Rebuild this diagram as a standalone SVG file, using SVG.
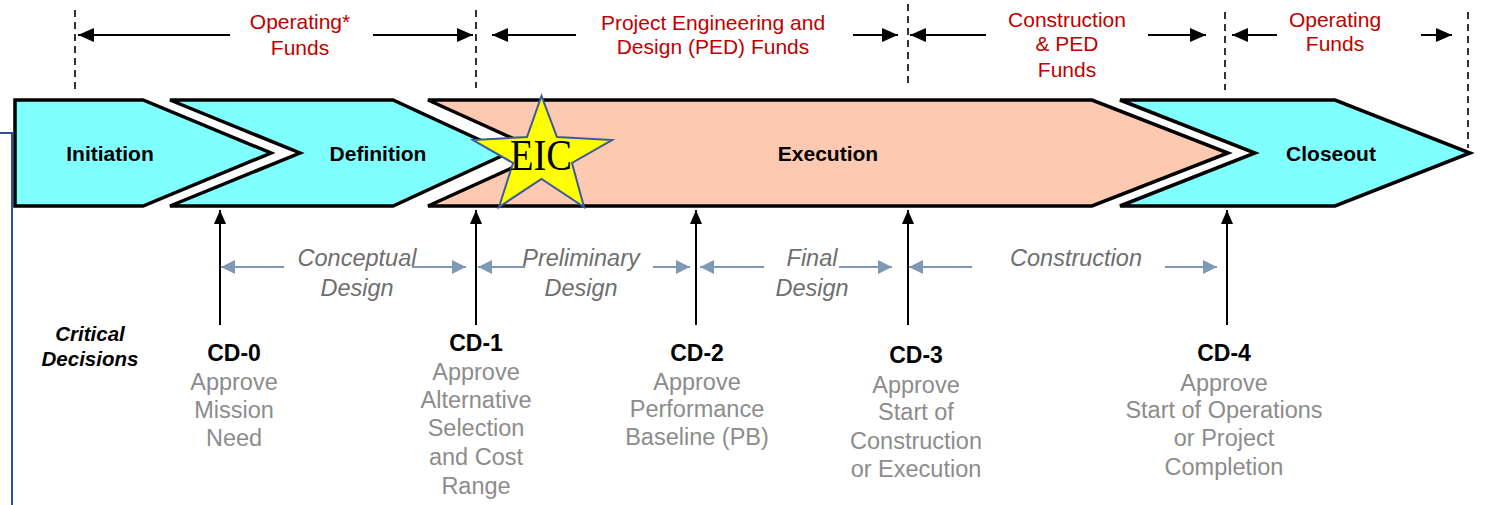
<svg xmlns="http://www.w3.org/2000/svg" width="1486" height="505" viewBox="0 0 1486 505">
<style>
.phase{stroke:#000;stroke-width:3.5;stroke-linejoin:miter}
.cyan{fill:#80ffff}
.peach{fill:#fdc9b0}
.plabel{font-family:"Liberation Sans",Arial,sans-serif;font-weight:bold;font-size:21px;fill:#000;text-anchor:middle}
.fund{font-family:"Liberation Sans",Arial,sans-serif;font-size:21px;fill:#c00000;text-anchor:middle}
.design{font-family:"Liberation Sans",Arial,sans-serif;font-style:italic;font-size:23.5px;fill:#6e6e6e;text-anchor:middle}
.cd{font-family:"Liberation Sans",Arial,sans-serif;font-weight:bold;font-size:23px;fill:#000;text-anchor:middle}
.desc{font-family:"Liberation Sans",Arial,sans-serif;font-size:23.5px;fill:#8c8c8c;text-anchor:middle}
.crit{font-family:"Liberation Sans",Arial,sans-serif;font-weight:bold;font-style:italic;font-size:20.5px;fill:#000;text-anchor:middle}
.dash{stroke:#000;stroke-width:1.6;stroke-dasharray:7 5;fill:none}
.farrow{stroke:#000;stroke-width:2;fill:none;marker-end:url(#bh)}
.garrow{stroke:#7f98b5;stroke-width:2;fill:none;marker-end:url(#gh)}
.varrow{stroke:#000;stroke-width:2;fill:none;marker-end:url(#vh)}
</style>
<defs>
<marker id="bh" markerUnits="userSpaceOnUse" markerWidth="18" markerHeight="14" refX="16" refY="7" orient="auto"><path d="M0,0 L16,7 L0,14 Z" fill="#000"/></marker>
<marker id="gh" markerUnits="userSpaceOnUse" markerWidth="16" markerHeight="14" refX="14" refY="7" orient="auto"><path d="M0,0 L14,7 L0,14 Z" fill="#7f98b5"/></marker>
<marker id="vh" markerUnits="userSpaceOnUse" markerWidth="16" markerHeight="12" refX="14" refY="6" orient="auto"><path d="M0,0 L14,6 L0,12 Z" fill="#000"/></marker>
</defs>

<path d="M0,133 H12 V505" stroke="#2f4f9f" stroke-width="2" fill="none"/>

<g id="initiation">
<polygon class="phase cyan" points="15,100 143,100 271,153 143,206 15,206"/>
<text class="plabel" x="110" y="161">Initiation</text>
</g>
<g id="definition">
<polygon class="phase cyan" points="170,100 393,100 508,153 393,206 170,206 300,153"/>
<text class="plabel" x="378" y="161">Definition</text>
</g>
<g id="execution">
<polygon class="phase peach" points="428,100 1092,100 1228,153 1092,206 428,206 545,153"/>
<text class="plabel" x="828" y="161">Execution</text>
</g>
<g id="closeout">
<polygon class="phase cyan" points="1120,100 1335,100 1470,153 1335,206 1120,206 1255,153"/>
<text class="plabel" x="1331" y="161">Closeout</text>
</g>
<g id="eic">
<polygon points="541.5,96 557,137 612,140 572,163 584,207 541.5,179 499,207 513,163 473,140 527,137" fill="#ffff00" stroke="#3a5a9b" stroke-width="2" stroke-linejoin="miter"/>
<text x="541" y="170" font-family="'Liberation Serif','Times New Roman',serif" font-size="44" fill="#000" text-anchor="middle" textLength="62" lengthAdjust="spacingAndGlyphs">EIC</text>
</g>

<g id="dashes">
<line class="dash" x1="75" y1="10" x2="75" y2="90"/>
<line class="dash" x1="476" y1="10" x2="476" y2="88"/>
<line class="dash" x1="908" y1="4" x2="908" y2="86"/>
<line class="dash" x1="1225" y1="12" x2="1225" y2="90"/>
<line class="dash" x1="1468" y1="12" x2="1468" y2="148"/>
</g>

<g id="connectors">
<line class="farrow" x1="230" y1="35" x2="78" y2="35"/>
<line class="farrow" x1="373" y1="35" x2="473" y2="35"/>
<line class="farrow" x1="576" y1="35" x2="492" y2="35"/>
<line class="farrow" x1="853" y1="35" x2="898" y2="35"/>
<line class="farrow" x1="986" y1="35" x2="910" y2="35"/>
<line class="farrow" x1="1148" y1="35" x2="1206" y2="35"/>
<line class="farrow" x1="1277" y1="35" x2="1232" y2="35"/>
<line class="farrow" x1="1421" y1="35" x2="1452" y2="35"/>

<line class="garrow" x1="284" y1="267" x2="221" y2="267"/>
<line class="garrow" x1="412" y1="267" x2="466" y2="267"/>
<line class="garrow" x1="525" y1="267" x2="478" y2="267"/>
<line class="garrow" x1="653" y1="267" x2="690" y2="267"/>
<line class="garrow" x1="764" y1="267" x2="700" y2="267"/>
<line class="garrow" x1="839" y1="267" x2="892" y2="267"/>
<line class="garrow" x1="972" y1="267" x2="909" y2="267"/>
<line class="garrow" x1="1165" y1="267" x2="1217" y2="267"/>

<line class="varrow" x1="220" y1="325" x2="220" y2="210"/>
<line class="varrow" x1="476" y1="325" x2="476" y2="210"/>
<line class="varrow" x1="696" y1="325" x2="696" y2="210"/>
<line class="varrow" x1="908" y1="325" x2="908" y2="210"/>
<line class="varrow" x1="1227" y1="325" x2="1227" y2="210"/>
</g>

<g id="funds">
<text class="fund" x="300" y="29">Operating*</text>
<text class="fund" x="300" y="55">Funds</text>
<text class="fund" x="713" y="30">Project Engineering and</text>
<text class="fund" x="713" y="54">Design (PED) Funds</text>
<text class="fund" x="1067" y="27">Construction</text>
<text class="fund" x="1067" y="51">&amp; PED</text>
<text class="fund" x="1067" y="77">Funds</text>
<text class="fund" x="1335" y="27">Operating</text>
<text class="fund" x="1335" y="51">Funds</text>
</g>

<g id="design-phases">
<text class="design" x="357" y="266">Conceptual</text>
<text class="design" x="357" y="296">Design</text>
<text class="design" x="581" y="266">Preliminary</text>
<text class="design" x="581" y="296">Design</text>
<text class="design" x="812" y="266">Final</text>
<text class="design" x="812" y="296">Design</text>
<text class="design" x="1076" y="266">Construction</text>
</g>

<g id="critical-decisions">
<text class="crit" x="90" y="341">Critical</text>
<text class="crit" x="90" y="366">Decisions</text>
</g>
<g id="cd0">
<text class="cd" x="234" y="361">CD-0</text>
<text class="desc" x="234" y="390">Approve</text>
<text class="desc" x="234" y="418">Mission</text>
<text class="desc" x="234" y="446">Need</text>
</g>
<g id="cd1">
<text class="cd" x="476" y="351">CD-1</text>
<text class="desc" x="476" y="380">Approve</text>
<text class="desc" x="476" y="408">Alternative</text>
<text class="desc" x="476" y="436">Selection</text>
<text class="desc" x="476" y="465">and Cost</text>
<text class="desc" x="476" y="494">Range</text>
</g>
<g id="cd2">
<text class="cd" x="697" y="361">CD-2</text>
<text class="desc" x="697" y="390">Approve</text>
<text class="desc" x="697" y="417">Performance</text>
<text class="desc" x="697" y="445">Baseline (PB)</text>
</g>
<g id="cd3">
<text class="cd" x="916" y="363">CD-3</text>
<text class="desc" x="916" y="393">Approve</text>
<text class="desc" x="916" y="420">Start of</text>
<text class="desc" x="916" y="449">Construction</text>
<text class="desc" x="916" y="477">or Execution</text>
</g>
<g id="cd4">
<text class="cd" x="1224" y="361">CD-4</text>
<text class="desc" x="1224" y="391">Approve</text>
<text class="desc" x="1224" y="418">Start of Operations</text>
<text class="desc" x="1224" y="446">or Project</text>
<text class="desc" x="1224" y="475">Completion</text>
</g>
</svg>
